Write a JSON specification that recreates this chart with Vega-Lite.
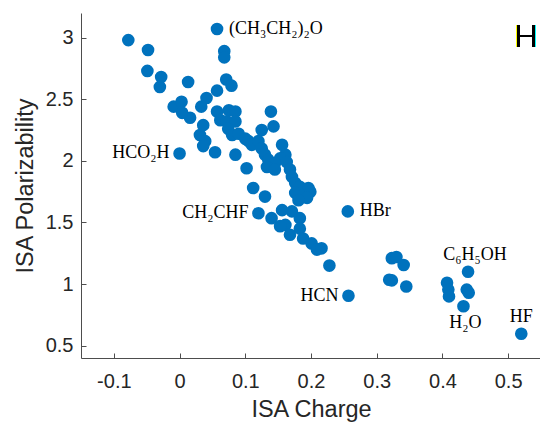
{
  "$schema": "https://vega.github.io/schema/vega-lite/v6.json",
  "autosize": {"type": "none"},
  "padding": {"left": 81, "top": 13, "right": 0, "bottom": 67},
  "width": 460,
  "height": 345,
  "background": "white",
  "config": {
    "view": {"stroke": null},
    "axis": {
      "grid": false,
      "domainColor": "#4d4d4d",
      "tickColor": "#4d4d4d",
      "labelColor": "#262626",
      "titleColor": "#262626",
      "labelFont": "Liberation Sans",
      "titleFont": "Liberation Sans",
      "labelFontSize": 20,
      "titleFontSize": 23.5,
      "titleFontWeight": "normal",
      "tickSize": -5
    }
  },
  "data": {
    "values": [
      {"charge": -0.078, "pol": 2.98},
      {"charge": -0.048, "pol": 2.90},
      {"charge": -0.049, "pol": 2.73},
      {"charge": -0.028, "pol": 2.68},
      {"charge": -0.030, "pol": 2.60},
      {"charge": 0.013, "pol": 2.64},
      {"charge": 0.057, "pol": 3.07, "label": "(CH₃CH₂)₂O"},
      {"charge": 0.068, "pol": 2.89},
      {"charge": 0.068, "pol": 2.84},
      {"charge": 0.071, "pol": 2.66},
      {"charge": 0.079, "pol": 2.61},
      {"charge": 0.057, "pol": 2.57},
      {"charge": 0.041, "pol": 2.51},
      {"charge": 0.033, "pol": 2.44},
      {"charge": -0.009, "pol": 2.44},
      {"charge": 0.003, "pol": 2.48},
      {"charge": 0.016, "pol": 2.35},
      {"charge": 0.004, "pol": 2.39},
      {"charge": 0.057, "pol": 2.40},
      {"charge": 0.075, "pol": 2.41},
      {"charge": 0.085, "pol": 2.40},
      {"charge": 0.062, "pol": 2.33},
      {"charge": 0.072, "pol": 2.32},
      {"charge": 0.085, "pol": 2.32},
      {"charge": 0.139, "pol": 2.40},
      {"charge": 0.036, "pol": 2.29},
      {"charge": 0.074, "pol": 2.26},
      {"charge": 0.080, "pol": 2.21},
      {"charge": 0.090, "pol": 2.22},
      {"charge": 0.100, "pol": 2.18},
      {"charge": 0.105, "pol": 2.16},
      {"charge": 0.125, "pol": 2.25},
      {"charge": 0.143, "pol": 2.28},
      {"charge": 0.031, "pol": 2.21},
      {"charge": 0.039, "pol": 2.16},
      {"charge": 0.036, "pol": 2.12},
      {"charge": 0.054, "pol": 2.07},
      {"charge": 0.085, "pol": 2.05},
      {"charge": 0.000, "pol": 2.06, "label": "HCO₂H"},
      {"charge": 0.110, "pol": 2.13},
      {"charge": 0.120, "pol": 2.16},
      {"charge": 0.125, "pol": 2.10},
      {"charge": 0.130, "pol": 2.05},
      {"charge": 0.135, "pol": 2.01},
      {"charge": 0.156, "pol": 2.13},
      {"charge": 0.161, "pol": 2.05},
      {"charge": 0.153, "pol": 2.02},
      {"charge": 0.145, "pol": 1.98},
      {"charge": 0.163, "pol": 1.99},
      {"charge": 0.133, "pol": 1.95},
      {"charge": 0.145, "pol": 1.93},
      {"charge": 0.102, "pol": 1.94},
      {"charge": 0.168, "pol": 1.93},
      {"charge": 0.171, "pol": 1.87},
      {"charge": 0.176, "pol": 1.82},
      {"charge": 0.183, "pol": 1.79},
      {"charge": 0.196, "pol": 1.78},
      {"charge": 0.176, "pol": 1.74},
      {"charge": 0.188, "pol": 1.72},
      {"charge": 0.199, "pol": 1.75},
      {"charge": 0.194, "pol": 1.70},
      {"charge": 0.181, "pol": 1.68},
      {"charge": 0.112, "pol": 1.78},
      {"charge": 0.130, "pol": 1.71},
      {"charge": 0.120, "pol": 1.575, "label": "CH₂CHF"},
      {"charge": 0.140, "pol": 1.535},
      {"charge": 0.156, "pol": 1.60},
      {"charge": 0.171, "pol": 1.59},
      {"charge": 0.183, "pol": 1.535},
      {"charge": 0.161, "pol": 1.48},
      {"charge": 0.153, "pol": 1.47},
      {"charge": 0.168, "pol": 1.40},
      {"charge": 0.183, "pol": 1.45},
      {"charge": 0.188, "pol": 1.37},
      {"charge": 0.201, "pol": 1.33},
      {"charge": 0.209, "pol": 1.28},
      {"charge": 0.216, "pol": 1.29},
      {"charge": 0.228, "pol": 1.15},
      {"charge": 0.256, "pol": 1.59, "label": "HBr"},
      {"charge": 0.257, "pol": 0.905, "label": "HCN"},
      {"charge": 0.323, "pol": 1.21},
      {"charge": 0.330, "pol": 1.22},
      {"charge": 0.341, "pol": 1.155},
      {"charge": 0.319, "pol": 1.035},
      {"charge": 0.323, "pol": 1.03},
      {"charge": 0.345, "pol": 0.98},
      {"charge": 0.407, "pol": 1.01},
      {"charge": 0.409, "pol": 0.955},
      {"charge": 0.410, "pol": 0.90},
      {"charge": 0.439, "pol": 1.10, "label": "C₆H₅OH"},
      {"charge": 0.437, "pol": 0.955},
      {"charge": 0.440, "pol": 0.93},
      {"charge": 0.432, "pol": 0.82, "label": "H₂O"},
      {"charge": 0.520, "pol": 0.597, "label": "HF"}
    ]
  },
  "encoding": {
    "x": {
      "field": "charge", "type": "quantitative",
      "scale": {"domain": [-0.15, 0.55], "nice": false, "zero": false},
      "axis": {
        "title": "ISA Charge",
        "values": [-0.1, 0, 0.1, 0.2, 0.3, 0.4, 0.5],
        "labelExpr": "'' + datum.value",
        "labelPadding": 18.5,
        "titlePadding": 6
      }
    },
    "y": {
      "field": "pol", "type": "quantitative",
      "scale": {"domain": [0.4, 3.2], "nice": false, "zero": false},
      "axis": {
        "title": "ISA Polarizability",
        "values": [0.5, 1, 1.5, 2, 2.5, 3],
        "labelExpr": "'' + datum.value",
        "labelPadding": 13,
        "titlePadding": 8
      }
    }
  },
  "layer": [
    {
      "mark": {"type": "circle", "size": 160, "color": "#0072BD", "opacity": 1}
    },
    {
      "transform": [{"filter": {"field": "label", "oneOf": ["(CH₃CH₂)₂O", "HBr"]}}],
      "mark": {"type": "text", "align": "left", "baseline": "middle", "dx": 12, "font": "Liberation Serif", "fontSize": 18, "color": "#000000"},
      "encoding": {"text": {"field": "label"}}
    },
    {
      "transform": [{"filter": {"field": "label", "oneOf": ["HCO₂H", "CH₂CHF", "HCN"]}}],
      "mark": {"type": "text", "align": "right", "baseline": "middle", "dx": -10, "font": "Liberation Serif", "fontSize": 18, "color": "#000000"},
      "encoding": {"text": {"field": "label"}}
    },
    {
      "transform": [{"filter": {"field": "label", "equal": "C₆H₅OH"}}],
      "mark": {"type": "text", "align": "center", "baseline": "alphabetic", "dx": 7, "dy": -12, "font": "Liberation Serif", "fontSize": 18, "color": "#000000"},
      "encoding": {"text": {"field": "label"}}
    },
    {
      "transform": [{"filter": {"field": "label", "equal": "HF"}}],
      "mark": {"type": "text", "align": "center", "baseline": "alphabetic", "dx": 0, "dy": -12, "font": "Liberation Serif", "fontSize": 18, "color": "#000000"},
      "encoding": {"text": {"field": "label"}}
    },
    {
      "transform": [{"filter": {"field": "label", "equal": "H₂O"}}],
      "mark": {"type": "text", "align": "center", "baseline": "alphabetic", "dx": 2, "dy": 22, "font": "Liberation Serif", "fontSize": 18, "color": "#000000"},
      "encoding": {"text": {"field": "label"}}
    },
    {
      "mark": {"type": "text", "align": "center", "baseline": "middle", "font": "Lato", "fontWeight": 300, "fontSize": 31, "color": "#000000"},
      "encoding": {
        "x": {"datum": 0.527},
        "y": {"datum": 3.0},
        "text": {"value": "H"}
      }
    }
  ]
}
